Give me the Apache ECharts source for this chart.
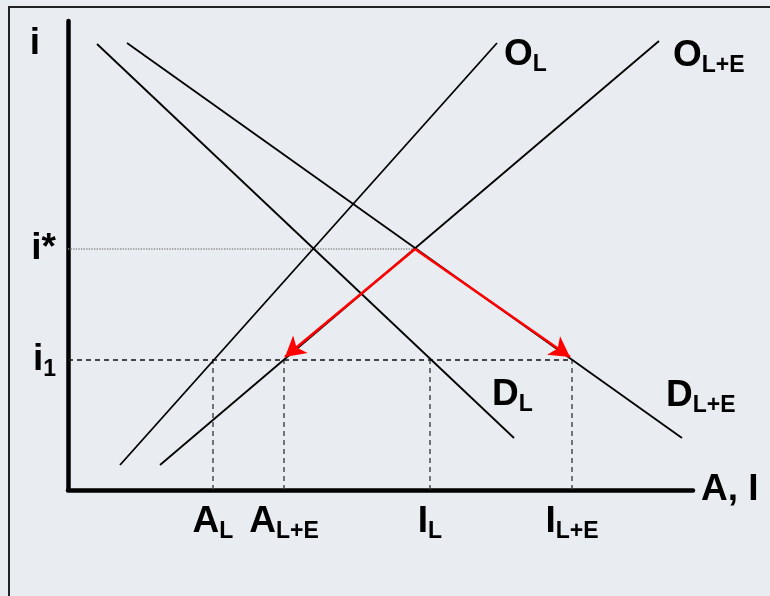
<!DOCTYPE html>
<html>
<head>
<meta charset="utf-8">
<script src="https://cdn.jsdelivr.net/npm/echarts@6/dist/echarts.min.js"></script>
<style>
  html, body { margin: 0; padding: 0; background: #e9ecf1; }
  #chart { width: 770px; height: 596px; }
</style>
</head>
<body>
<div id="chart"></div>
<script>
// curve end points [x, y] in chart units
const dL = [[29, 446], [446, 52]];
const dLE = [[59, 447], [614, 52]];
const oL = [[52, 25], [429, 447]];
const oLE = [[92, 25], [591, 449]];

// equilibrium and shifted levels
const iStar = 241;
const iOne = 130;
const eqPoint = [347, 241];
const arrowEnds = [[217, 133], [502, 133]];

// tick labels
const xTickValues = [145, 216, 362, 504];
const xTickMain = ['A', 'A', 'I', 'I'];
const xTickSub = ['L', 'L+E', 'L', 'L+E'];
const yTickValues = [241, 130];
const yTickMain = ['i', 'i'];
const yTickSub = ['*', '1'];

const font = "'Liberation Sans', Arial, sans-serif";
const rich = {
  m: { fontSize: 37, fontWeight: 'bold', fontFamily: font, color: '#000', lineHeight: 38 },
  s: { fontSize: 23, fontWeight: 'bold', fontFamily: font, color: '#000', lineHeight: 23, padding: [19, 0, 0, 0] }
};

function tickText(mains, subs, values, v) {
  const k = values.indexOf(v);
  if (k < 0) return '';
  if (subs[k] === '*') return '{m|' + mains[k] + '*}';
  return '{m|' + mains[k] + '}{s|' + subs[k] + '}';
}

const chart = echarts.init(document.getElementById('chart'));

function curve(name, pts, sub, offset) {
  return {
    name: name,
    type: 'line',
    data: pts,
    symbol: 'none',
    lineStyle: { color: '#000', width: 1.8 },
    endLabel: {
      show: true,
      formatter: () => '{m|' + name + '}{s|' + sub + '}',
      rich: rich,
      offset: offset
    }
  };
}

// helper dashed guides
const guides = [];
xTickValues.forEach(x => {
  guides.push({
    type: 'line',
    data: [[x, 0], [x, iOne]],
    symbol: 'none',
    lineStyle: { color: '#333', width: 1.3, type: [5, 4] }
  });
});

const option = {
  backgroundColor: '#e9ecf1',
  animation: false,
  grid: { left: 68, right: 77, top: 21, bottom: 106 },
  xAxis: {
    type: 'value',
    min: 0,
    max: 625,
    name: 'A, I',
    nameLocation: 'end',
    nameGap: 8,
    nameTextStyle: { fontSize: 37, fontWeight: 'bold', fontFamily: font, color: '#000' },
    axisLine: { show: true, lineStyle: { color: '#000', width: 4.5 } },
    axisTick: { show: false },
    splitLine: { show: false },
    axisLabel: {
      customValues: xTickValues,
      margin: 13,
      formatter: v => tickText(xTickMain, xTickSub, xTickValues, v),
      rich: rich
    }
  },
  yAxis: {
    type: 'value',
    min: 0,
    max: 469,
    name: 'i',
    nameLocation: 'end',
    nameGap: -4,
    nameTextStyle: {
      fontSize: 37, fontWeight: 'bold', fontFamily: font, color: '#000',
      align: 'right', verticalAlign: 'top', padding: [0, 28, 0, 0]
    },
    axisLine: { show: true, lineStyle: { color: '#000', width: 4.5 } },
    axisTick: { show: false },
    splitLine: { show: false },
    axisLabel: {
      customValues: yTickValues,
      margin: 12,
      formatter: v => tickText(yTickMain, yTickSub, yTickValues, v),
      rich: rich
    }
  },
  graphic: [{
    type: 'rect',
    shape: { x: 9, y: 7, width: 900, height: 800 },
    style: { fill: 'none', stroke: '#222', lineWidth: 2 },
    silent: true
  }],
  series: [
    {
      type: 'line',
      data: [[0, iStar], [eqPoint[0], iStar]],
      symbol: 'none',
      lineStyle: { color: '#8a8a8a', width: 1.3, type: 'dotted' }
    },
    {
      type: 'line',
      data: [[0, iOne], [xTickValues[3], iOne]],
      symbol: 'none',
      lineStyle: { color: '#111', width: 1.3, type: [5, 4] }
    },
    ...guides,
    curve('D', dL, 'L', [-30, -43]),
    curve('D', dLE, 'L+E', [-24, -42]),
    curve('O', oL, 'L', [-1, 12]),
    curve('O', oLE, 'L+E', [6, 15]),
    {
      // red shift arrows
      type: 'line',
      data: [],
      markLine: {
        silent: true,
        symbol: ['none', 'arrow'],
        symbolSize: [17, 20],
        label: { show: false },
        lineStyle: { color: '#ff0000', width: 2.6, type: 'solid' },
        data: arrowEnds.map(p => [{ coord: eqPoint }, { coord: p }])
      }
    }
  ]
};

chart.setOption(option);
</script>
</body>
</html>
